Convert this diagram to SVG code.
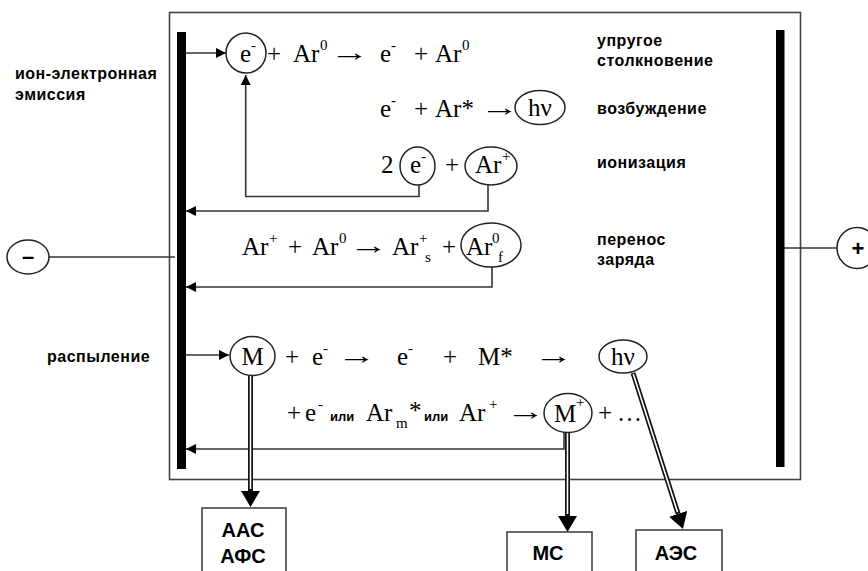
<svg xmlns="http://www.w3.org/2000/svg" width="868" height="571" viewBox="0 0 868 571">
<defs>
<style>
.f{font-family:"Liberation Serif","Times New Roman",serif;font-size:25px;fill:#000}
.ar{font-family:"Liberation Serif","Times New Roman",serif;font-size:25px;fill:#000}
.sup{font-family:"Liberation Serif","Times New Roman",serif;font-size:15px;fill:#000}
.lbl{font-family:"Liberation Sans",Arial,sans-serif;font-size:16px;font-weight:bold;letter-spacing:0.5px;fill:#000}
.ili{font-family:"Liberation Sans",Arial,sans-serif;font-size:13px;font-weight:bold;fill:#000}
.box{font-family:"Liberation Sans",Arial,sans-serif;font-size:20px;font-weight:bold;fill:#000;text-anchor:middle}
.node{fill:#fff;stroke:#222;stroke-width:1.5}
.wire{fill:none;stroke:#333;stroke-width:1.6}
.dbl{fill:none;stroke:#111;stroke-width:5}
.dbli{fill:none;stroke:#fff;stroke-width:1.6}
.bar{fill:#000}
</style>
<marker id="sa" viewBox="0 0 10 10" markerWidth="10" markerHeight="10" refX="10" refY="5" orient="auto" markerUnits="userSpaceOnUse">
<path d="M0,0 L10,5 L0,10 Z" fill="#000"/>
</marker>
<marker id="ba" viewBox="0 0 16 19" markerWidth="16" markerHeight="19" refX="0" refY="9.5" orient="auto" markerUnits="userSpaceOnUse">
<path d="M0,0 L16,9.5 L0,19 Z" fill="#000"/>
</marker>
</defs>
<rect width="868" height="571" fill="#fff"/>

<g id="frame"><rect x="169.5" y="12.5" width="631" height="467" fill="none" stroke="#444" stroke-width="1.6"/></g>

<g id="connectors">
<path class="wire" d="M49,257 H175"/>
<path class="wire" d="M784,248 H837"/>
<path class="wire" d="M186,53 H226" marker-end="url(#sa)"/>
<path class="wire" d="M419,185 V196.5 H245.7 V75" marker-end="url(#sa)"/>
<path class="wire" d="M488,185 V211 H186" marker-end="url(#sa)"/>
<path class="wire" d="M492,267 V287 H186" marker-end="url(#sa)"/>
<path class="wire" d="M186,355 H229" marker-end="url(#sa)"/>
<path class="wire" d="M564,432 V449 H186" marker-end="url(#sa)"/>
<path class="dbl" d="M250.5,375.5 V491" marker-end="url(#ba)"/>
<path class="dbli" d="M250.5,376 V489"/>
<path class="dbl" d="M567.5,432.5 V516" marker-end="url(#ba)"/>
<path class="dbli" d="M567.5,433 V514"/>
<path class="dbl" d="M633,373 L678.1,513.8" marker-end="url(#ba)"/>
<path class="dbli" d="M633.3,374 L677.5,512"/>
</g>

<g id="electrode-left"><rect class="bar" x="177" y="32" width="9" height="437"/></g>
<g id="electrode-right"><rect class="bar" x="776" y="30" width="8.5" height="437"/></g>

<g id="node-minus"><ellipse class="node" cx="28" cy="257" rx="21" ry="17"/><text x="28" y="264" font-family="Liberation Sans,Arial,sans-serif" font-size="22" font-weight="bold" text-anchor="middle">–</text></g>
<g id="node-plus"><ellipse class="node" cx="857" cy="248" rx="20" ry="20.5"/><text x="858" y="256" font-family="Liberation Sans,Arial,sans-serif" font-size="22" font-weight="bold" text-anchor="middle">+</text></g>

<g id="labels-left">
<text class="lbl" x="15" y="79">ион-электронная</text>
<text class="lbl" x="15" y="100">эмиссия</text>
<text class="lbl" x="47" y="362">распыление</text>
</g>
<g id="labels-right">
<text class="lbl" x="597" y="46">упругое</text>
<text class="lbl" x="597" y="66">столкновение</text>
<text class="lbl" x="597" y="114">возбуждение</text>
<text class="lbl" x="597" y="168">ионизация</text>
<text class="lbl" x="597" y="245">перенос</text>
<text class="lbl" x="597" y="265">заряда</text>
</g>

<g id="node-e1"><circle class="node" cx="246" cy="53" r="20"/><text class="f" x="240" y="62">e</text><text class="sup" x="251" y="50">-</text></g>
<g id="reaction-1">
<text class="f" x="267" y="62">+</text>
<text class="f" x="293" y="62">Ar</text><text class="sup" x="320" y="50">0</text>
<text class="ar" transform="translate(330,61) scale(1.57,1)">→</text>
<text class="f" x="380" y="62">e</text><text class="sup" x="391" y="50">-</text>
<text class="f" x="414" y="62">+</text>
<text class="f" x="435" y="62">Ar</text><text class="sup" x="462" y="50">0</text>
</g>

<g id="reaction-2">
<text class="f" x="380" y="117">e</text><text class="sup" x="391" y="105">-</text>
<text class="f" x="414" y="117">+</text>
<text class="f" x="435" y="117">Ar*</text>
<text class="ar" transform="translate(480,116) scale(1.57,1)">→</text>
</g>
<g id="node-hv1"><ellipse class="node" cx="540" cy="107.5" rx="25" ry="17"/><text class="f" x="540" y="116" text-anchor="middle">hν</text></g>

<g id="reaction-3">
<text class="f" x="381" y="173">2</text>
<text class="f" x="445" y="173">+</text>
</g>
<g id="node-e2"><ellipse class="node" cx="417.5" cy="166" rx="17.5" ry="19"/><text class="f" x="410" y="173">e</text><text class="sup" x="421" y="161">-</text></g>
<g id="node-arplus"><ellipse class="node" cx="491" cy="166" rx="26" ry="19"/><text class="f" x="475" y="173">Ar</text><text class="sup" x="502" y="161">+</text></g>

<g id="reaction-4">
<text class="f" x="242" y="255">Ar</text><text class="sup" x="269" y="243">+</text>
<text class="f" x="288" y="255">+</text>
<text class="f" x="312" y="255">Ar</text><text class="sup" x="339" y="243">0</text>
<text class="ar" transform="translate(349,254) scale(1.57,1)">→</text>
<text class="f" x="392" y="255">Ar</text><text class="sup" x="419" y="243">+</text><text class="sup" x="425" y="262">s</text>
<text class="f" x="442" y="255">+</text>
</g>
<g id="node-ar0f"><ellipse class="node" cx="491" cy="245" rx="30" ry="22"/><text class="f" x="466" y="255">Ar</text><text class="sup" x="492" y="243">0</text><text class="sup" x="498" y="262">f</text></g>

<g id="node-m"><ellipse class="node" cx="252.5" cy="356" rx="22.5" ry="19.5"/><text class="f" x="252.5" y="365" text-anchor="middle">M</text></g>
<g id="reaction-5">
<text class="f" x="285" y="365">+</text>
<text class="f" x="312" y="365">e</text><text class="sup" x="323" y="353">-</text>
<text class="ar" transform="translate(337,364) scale(1.57,1)">→</text>
<text class="f" x="397" y="365">e</text><text class="sup" x="408" y="353">-</text>
<text class="f" x="443" y="365">+</text>
<text class="f" x="478" y="365">M*</text>
<text class="ar" transform="translate(534,364) scale(1.57,1)">→</text>
</g>
<g id="node-hv2"><ellipse class="node" cx="623" cy="356.5" rx="24" ry="16.5"/><text class="f" x="623" y="365" text-anchor="middle">hν</text></g>

<g id="reaction-6">
<text class="f" x="287" y="421">+</text>
<text class="f" x="305" y="421">e</text><text class="sup" x="318" y="409">-</text>
<text class="ili" x="330" y="421">или</text>
<text class="f" x="366" y="421" font-size="27">Ar</text><text class="sup" x="396" y="428" font-size="16">m</text><text class="f" x="409" y="419" font-size="18">*</text>
<text class="ili" x="424" y="421">или</text>
<text class="f" x="459" y="421" font-size="27">Ar</text><text class="sup" x="489" y="409">+</text>
<text class="ar" transform="translate(506,420) scale(1.57,1)">→</text>
<text class="f" x="598" y="421">+</text>
<text class="f" x="617" y="421">…</text>
</g>
<g id="node-mplus"><ellipse class="node" cx="568" cy="413" rx="24" ry="19.5"/><text class="f" x="565" y="422" text-anchor="middle">M</text><text class="sup" x="576" y="407">+</text></g>

<g id="box-aas"><rect x="202" y="508" width="84" height="75" fill="#fff" stroke="#444" stroke-width="1.6"/><text class="box" x="243" y="537">ААС</text><text class="box" x="243" y="563">АФС</text></g>
<g id="box-ms"><rect x="507" y="532" width="85" height="55" fill="#fff" stroke="#444" stroke-width="1.6"/><text class="box" x="548" y="560">МС</text></g>
<g id="box-aes"><rect x="636" y="530" width="86" height="55" fill="#fff" stroke="#444" stroke-width="1.6"/><text class="box" x="676" y="560">АЭС</text></g>
</svg>
